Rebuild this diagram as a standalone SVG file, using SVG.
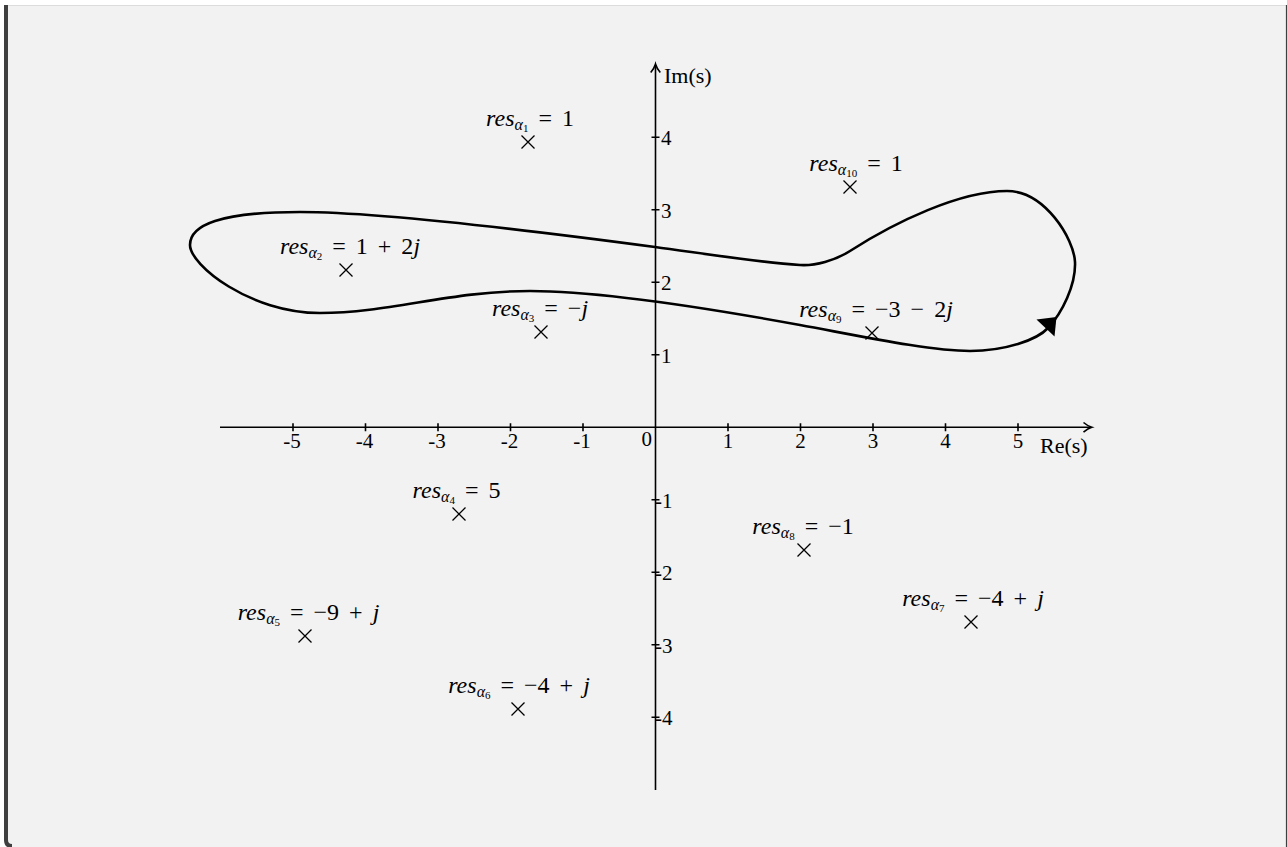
<svg xmlns="http://www.w3.org/2000/svg" width="1287" height="847" viewBox="0 0 1287 847">
<style>
text{font-family:"Liberation Serif","Times New Roman",serif;fill:#000}
.tick{font-size:21px}
.ax{font-size:22px}
.lbl{font-family:"Liberation Serif","Times New Roman",serif;font-size:24px;text-anchor:middle;word-spacing:4px}
.it{font-style:italic}
.sa{font-size:16px;font-style:italic}
.sd{font-size:11px}
.axis{stroke:#000;stroke-width:1.6;fill:none}
.cross{stroke:#000;stroke-width:1.3;fill:none}
.curve{stroke:#000;stroke-width:2.6;fill:none;stroke-linejoin:round}
</style>
<defs>
<path id="x" d="M-6.5,-6.5L6.5,6.5M-6.5,6.5L6.5,-6.5"/>
</defs>
<rect width="1287" height="847" fill="#ffffff"/>
<path d="M4,5H1287V847H10Q4,847 4,841Z" fill="#f2f2f2"/>
<line x1="8" y1="5.5" x2="1287" y2="5.5" stroke="#dcdcdc" stroke-width="1.2"/>
<path d="M6,5V840Q6,846 12,846" stroke="#3f3f3f" stroke-width="4" fill="none"/>
<line x1="1286.5" y1="5" x2="1286.5" y2="847" stroke="#3f3f3f" stroke-width="1.2"/>

<g id="axes">
<line class="axis" x1="220" y1="427.3" x2="1091" y2="427.3"/>
<path class="axis" d="M1083.5,422.5Q1088,426.2 1091.8,427.3Q1088,428.4 1083.5,432.2"/>
<line class="axis" x1="655.5" y1="790" x2="655.5" y2="65"/>
<path class="axis" d="M650.7,72.5Q654.4,68 655.5,64Q656.6,68 660.3,72.5"/>
<path class="axis" d="M293,423.3V431.3M365.5,423.3V431.3M438,423.3V431.3M510.5,423.3V431.3M583,423.3V431.3M728,423.3V431.3M800.5,423.3V431.3M873,423.3V431.3M945.5,423.3V431.3M1018,423.3V431.3"/>
<path class="axis" d="M651.5,137.3H659.5M651.5,209.8H659.5M651.5,282.3H659.5M651.5,354.8H659.5M651.5,499.8H659.5M651.5,572.3H659.5M651.5,644.8H659.5M651.5,717.3H659.5"/>
<g class="tick" text-anchor="middle">
<text x="292" y="448">-5</text>
<text x="364.5" y="448">-4</text>
<text x="437" y="448">-3</text>
<text x="509.5" y="448">-2</text>
<text x="582" y="448">-1</text>
<text x="728" y="448">1</text>
<text x="800.5" y="448">2</text>
<text x="873" y="448">3</text>
<text x="945.5" y="448">4</text>
<text x="1018" y="448">5</text>
</g>
<text class="tick" x="652" y="446" text-anchor="end">0</text>
<g class="tick">
<text x="661" y="145">4</text>
<text x="661" y="217.5">3</text>
<text x="661" y="290">2</text>
<text x="661" y="362.5">1</text>
<text x="655" y="507.5">-1</text>
<text x="655" y="580">-2</text>
<text x="655" y="652.5">-3</text>
<text x="655" y="725">-4</text>
</g>
<text class="ax" x="664" y="83">Im(s)</text>
<text class="ax" x="1040" y="453">Re(s)</text>
</g>

<g id="connectors">
<path id="contour" class="curve" d="M1048,328C1062,313 1076,285 1075,262C1074,239 1045,191 1007,191C960,191 895,222 850,251C835,260.6 815,266 800,265C755,262 700,253 655,247C535,231 380,212 300,212C220,212 190,225 190,245C190,265 250,313 320,313C390,313 450,291 530,291C610,291 740,314 800,325C860,336 930,351 970,351C1005,351 1037,340 1048,328Z"/>
<polygon id="arrowhead" points="1056.5,317 1036.5,319.5 1054.5,336.5" fill="#000"/>
</g>

<g id="res1"><use href="#x" class="cross" x="528" y="142"/><text class="lbl" x="530" y="125.5"><tspan class="it">res</tspan><tspan class="sa" dy="4">α</tspan><tspan class="sd" dy="2">1</tspan><tspan dy="-6"> = 1</tspan></text></g>
<g id="res10"><use href="#x" class="cross" x="850" y="187"/><text class="lbl" x="856" y="170.5"><tspan class="it">res</tspan><tspan class="sa" dy="4">α</tspan><tspan class="sd" dy="2">10</tspan><tspan dy="-6"> = 1</tspan></text></g>
<g id="res2"><use href="#x" class="cross" x="346" y="270"/><text class="lbl" x="350" y="253.5"><tspan class="it">res</tspan><tspan class="sa" dy="4">α</tspan><tspan class="sd" dy="2">2</tspan><tspan dy="-6"> = 1 + 2</tspan><tspan class="it">j</tspan></text></g>
<g id="res3"><use href="#x" class="cross" x="541" y="332"/><text class="lbl" x="540" y="315.5"><tspan class="it">res</tspan><tspan class="sa" dy="4">α</tspan><tspan class="sd" dy="2">3</tspan><tspan dy="-6"> = −</tspan><tspan class="it">j</tspan></text></g>
<g id="res9"><use href="#x" class="cross" x="872" y="333"/><text class="lbl" x="876" y="316.5"><tspan class="it">res</tspan><tspan class="sa" dy="4">α</tspan><tspan class="sd" dy="2">9</tspan><tspan dy="-6"> = −3 − 2</tspan><tspan class="it">j</tspan></text></g>
<g id="res4"><use href="#x" class="cross" x="459" y="514"/><text class="lbl" x="456.5" y="497.5"><tspan class="it">res</tspan><tspan class="sa" dy="4">α</tspan><tspan class="sd" dy="2">4</tspan><tspan dy="-6"> = 5</tspan></text></g>
<g id="res8"><use href="#x" class="cross" x="804" y="550"/><text class="lbl" x="803" y="533.5"><tspan class="it">res</tspan><tspan class="sa" dy="4">α</tspan><tspan class="sd" dy="2">8</tspan><tspan dy="-6"> = −1</tspan></text></g>
<g id="res7"><use href="#x" class="cross" x="971" y="622"/><text class="lbl" x="973" y="605.5"><tspan class="it">res</tspan><tspan class="sa" dy="4">α</tspan><tspan class="sd" dy="2">7</tspan><tspan dy="-6"> = −4 + </tspan><tspan class="it">j</tspan></text></g>
<g id="res5"><use href="#x" class="cross" x="305" y="636"/><text class="lbl" x="308.5" y="619.5"><tspan class="it">res</tspan><tspan class="sa" dy="4">α</tspan><tspan class="sd" dy="2">5</tspan><tspan dy="-6"> = −9 + </tspan><tspan class="it">j</tspan></text></g>
<g id="res6"><use href="#x" class="cross" x="518" y="709"/><text class="lbl" x="519" y="692.5"><tspan class="it">res</tspan><tspan class="sa" dy="4">α</tspan><tspan class="sd" dy="2">6</tspan><tspan dy="-6"> = −4 + </tspan><tspan class="it">j</tspan></text></g>
</svg>
